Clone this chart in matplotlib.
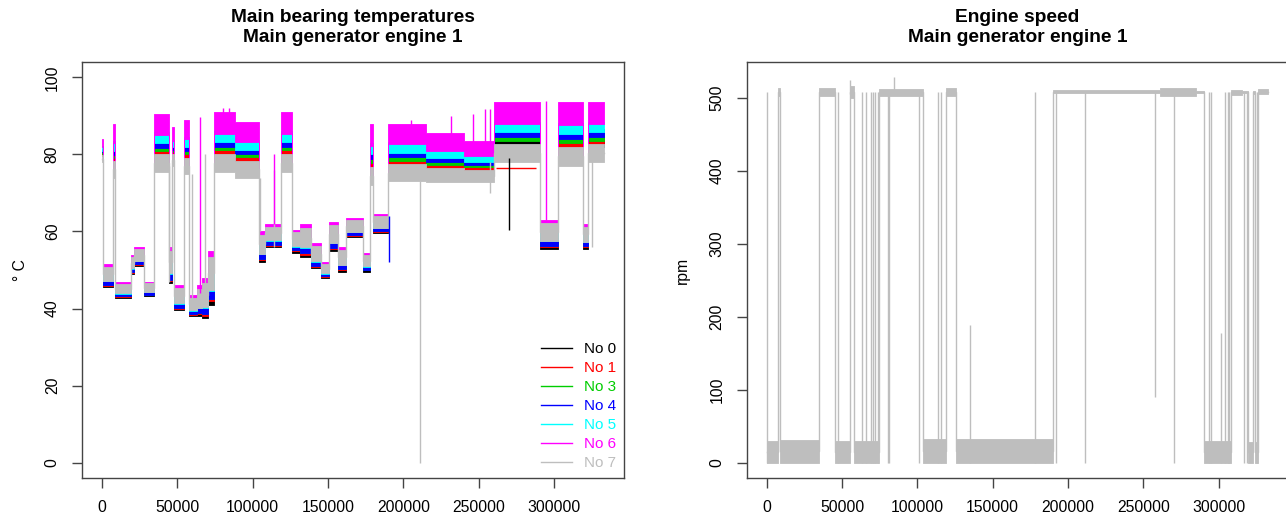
import numpy as np
import matplotlib.pyplot as plt
from matplotlib.lines import Line2D

plt.rcParams['font.family'] = ['Liberation Sans', 'DejaVu Sans']

N_SAMPLES = 333000

# bearing temperature plateaus: first sample, band bottom and band top (deg C)
SEG_START = [0, 600, 7000, 8400, 19200, 21500, 28100, 34300, 44200, 46700,
             47900, 54600, 58000, 63000, 66000, 70000, 74600, 88000, 103800, 107800,
             119000, 125700, 131100, 138800, 145400, 150900, 156400, 162000, 173000, 177500,
             179700, 189400, 215000, 240000, 259800, 290400, 302800, 319100, 322400]
SEG_LO = [78, 45.5, 74, 42.8, 49, 51, 43.2, 75.5, 46.5, 77,
          39.5, 75, 38, 38, 37.5, 41, 75.5, 74, 52, 56,
          75.5, 54.5, 53.5, 50.5, 48, 55, 49.6, 58.5, 49.6, 72,
          59.5, 73, 72.8, 72.8, 78, 55.5, 77, 55.5, 78]
SEG_HI = [84, 51.5, 88, 46.8, 54, 56, 47, 90.5, 56, 87,
          46, 89, 43.5, 46, 48, 55, 91, 88.5, 60, 62,
          91, 60.5, 62, 57, 52, 62.5, 56, 63.5, 54.5, 88,
          64.5, 88, 85.5, 83.5, 93.5, 63, 93.5, 62, 93.5]

SERIES = ['No 0', 'No 1', 'No 3', 'No 4', 'No 5', 'No 6', 'No 7']
COLORS = ['black', 'red', '#00CD00', 'blue', 'cyan', 'magenta', '#BEBEBE']

# share of the band each bearing covers, engine running / engine stopped
HOT_POS = [(0.26, 0.38), (0.30, 0.44), (0.36, 0.48), (0.42, 0.56),
           (0.50, 0.68), (0.64, 1.00), (0.00, 0.30)]
COLD_POS = [(0.00, 0.14), (0.06, 0.22), (0.10, 0.26), (0.10, 0.32),
            (0.26, 0.40), (0.82, 1.00), (0.28, 0.88)]

# bearing No 1 sensor frozen over this stretch
STUCK_START, STUCK_END, STUCK_VALUE = 261600, 287700, 76.4

# single-sample excursions: sample, from, to, series index
SPIKE_X = [210700, 44600, 60000, 68000, 113800, 257600, 325000, 104500,
           64700, 113800, 294800, 80000, 84000, 231700, 246100, 253900, 257200, 205000,
           270000, 190500]
SPIKE_Y0 = [0, 47, 40, 45, 56, 70, 56, 60,
            44, 62, 63, 89, 88, 84, 82, 82, 82, 86,
            60.5, 52]
SPIKE_Y1 = [73, 77, 75, 80, 76, 78, 80, 74,
            89.8, 80, 93.9, 92, 92, 90, 90.5, 91.8, 91.8, 89,
            79, 64]
SPIKE_S = [6, 6, 6, 6, 6, 6, 6, 6,
           5, 5, 5, 5, 5, 5, 5, 5, 5, 5,
           0, 3]

# engine speed plateaus: first sample, band bottom and top (rpm)
RPM_START = [0, 7300, 8900, 35000, 45500, 55000, 58200, 74800, 103600, 118800,
             125800, 190000, 260800, 285100, 290600, 308400, 315700, 319400, 322700, 324000,
             326400]
RPM_LO = [0, 503, 0, 503, 0, 500, 0, 503, 0, 503,
          0, 506, 502, 506, 0, 504, 506, 0, 505, 0,
          505]
RPM_HI = [30, 514, 31, 513, 29, 516, 30, 512, 33, 513,
          32, 511, 514, 510, 30, 511, 510, 28, 510, 28,
          512]

# start/stop flickers that jump the whole range
RPM_JUMPS = [0, 47300, 63100, 66000, 68900, 70400, 72200, 73700, 80400, 81000,
             100900, 114000, 115800, 178400, 192200, 211000, 270300, 293500, 295000,
             304600, 306100, 307200, 316800, 319000, 325400]
RPM_JUMP_TOP = 508
RPM_SPIKE_X = [135100, 257900, 301700, 84800, 55400]
RPM_SPIKE_Y0 = [0, 90, 0, 505, 505]
RPM_SPIKE_Y1 = [188, 508, 177, 528, 525]


def steps(starts, values, end):
    edges = np.append(starts, end)
    xs = np.column_stack([edges[:-1], edges[1:]]).ravel()
    return xs, np.repeat(values, 2)


def style(ax, ylim, yticks):
    ax.set_xlim(-13320, 346320)
    ax.set_ylim(*ylim)
    ax.set_xticks(np.arange(0, 300001, 50000))
    ax.set_xticklabels([str(v) for v in range(0, 300001, 50000)])
    ax.set_yticks(yticks)
    ax.tick_params(direction='out', length=7, width=1, color='#444444',
                   labelsize=11.3, pad=9)
    for lab in ax.get_yticklabels():
        lab.set_rotation(90)
        lab.set_va('center')
    for sp in ax.spines.values():
        sp.set_color('#444444')
        sp.set_linewidth(1)


fig = plt.figure(figsize=(12.86, 5.19), dpi=100)
ax1 = fig.add_axes([0.06376, 0.0790, 0.42146, 0.80154])
ax2 = fig.add_axes([0.58064, 0.0790, 0.42115, 0.80154])

lo = np.array(SEG_LO, dtype=float)
hi = np.array(SEG_HI, dtype=float)
hot = lo > 70
starts = np.array(SEG_START)

for i, (name, col) in enumerate(zip(SERIES, COLORS)):
    f0 = np.where(hot, HOT_POS[i][0], COLD_POS[i][0])
    f1 = np.where(hot, HOT_POS[i][1], COLD_POS[i][1])
    y0 = lo + f0 * (hi - lo)
    y1 = lo + f1 * (hi - lo)
    if name == 'No 1':
        frozen = (starts >= STUCK_START - 2000) & (starts < STUCK_END)
        y0[frozen] = np.nan
        y1[frozen] = np.nan
    xs, ys0 = steps(SEG_START, y0, N_SAMPLES)
    _, ys1 = steps(SEG_START, y1, N_SAMPLES)
    ax1.fill_between(xs, ys0, ys1, color=col, lw=0.6, edgecolor=col)
    if name == 'No 7':
        # connect the plateaus the way the raw trace does
        ax1.plot(xs, (ys0 + ys1) / 2, color=col, lw=1)

ax1.hlines(STUCK_VALUE, STUCK_START, STUCK_END, color='red', lw=1)
ax1.vlines(SPIKE_X, SPIKE_Y0, SPIKE_Y1, colors=[COLORS[s] for s in SPIKE_S], lw=1)

style(ax1, (-4, 104), np.arange(0, 101, 20))
ax1.set_title('Main bearing temperatures\nMain generator engine 1',
              fontsize=13.8, fontweight='bold', linespacing=1.22, pad=14.5)
ax1.set_ylabel('\u00b0 C', fontsize=11.3, labelpad=12)

handles = [Line2D([], [], color=c, lw=1) for c in COLORS]
ax1.legend(handles, SERIES, loc='lower right', frameon=False, fontsize=11,
           labelcolor=COLORS, handlelength=2, handletextpad=0.8,
           labelspacing=0.33, borderaxespad=0.1)

# engine speed
xs, r0 = steps(RPM_START, RPM_LO, N_SAMPLES)
_, r1 = steps(RPM_START, RPM_HI, N_SAMPLES)
ax2.fill_between(xs, r0, r1, color='#BEBEBE', lw=0.6, edgecolor='#BEBEBE')
ax2.plot(xs, (r0 + r1) / 2, color='#BEBEBE', lw=1)
ax2.vlines(RPM_JUMPS, 0, RPM_JUMP_TOP, colors='#BEBEBE', lw=1)
ax2.vlines(RPM_SPIKE_X, RPM_SPIKE_Y0, RPM_SPIKE_Y1, colors='#BEBEBE', lw=1)

style(ax2, (-21.1, 549.1), np.arange(0, 501, 100))
ax2.set_title('Engine speed\nMain generator engine 1',
              fontsize=13.8, fontweight='bold', linespacing=1.22, pad=14.5)
ax2.set_ylabel('rpm', fontsize=11.3, labelpad=14)

fig.savefig('out.png', dpi=100)
